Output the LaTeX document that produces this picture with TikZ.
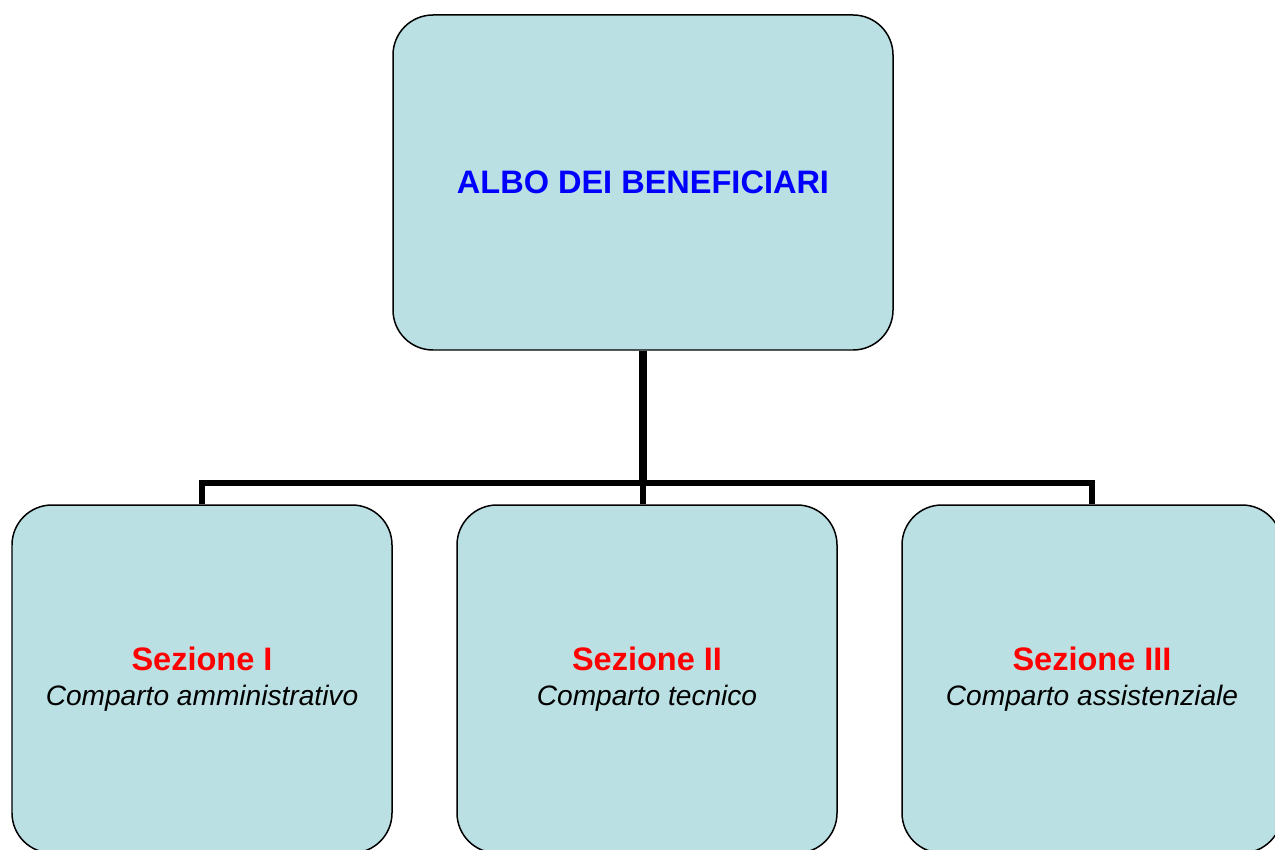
\documentclass[tikz,border=0pt]{standalone}
\usepackage{fontspec}
\setmainfont{Liberation Sans}
\usepackage{xcolor}
\definecolor{boxcyan}{RGB}{187,224,227}
\definecolor{alboblue}{RGB}{0,0,255}
\definecolor{sezred}{RGB}{255,0,0}

\begin{document}
\begin{tikzpicture}[
    box/.style={draw,black,line width=0.85pt,fill=boxcyan,rounded corners=0.8cm,align=center,inner sep=0pt},
    topbox/.style={box,minimum width=10cm,minimum height=6.7cm},
    sezbox/.style={box,minimum width=7.6cm,minimum height=6.96cm,font=\fontsize{16}{20}\selectfont},
    trunk/.style={line width=0.16cm},
    branch/.style={line width=0.115cm}
]
    \useasboundingbox (0,0) rectangle (25.5,-16.98);
    \node[topbox] (albo) at (12.86,-3.65) {\fontsize{18.5}{22}\selectfont\bfseries\color{alboblue}ALBO DEI BENEFICIARI};
    \node[sezbox] (sez1) at (4.04,-13.58) {{\fontsize{18.5}{22}\selectfont\bfseries\color{sezred}Sezione I}\\\itshape Comparto amministrativo};
    \node[sezbox] (sez2) at (12.94,-13.58) {{\fontsize{18.5}{22}\selectfont\bfseries\color{sezred}Sezione II}\\\itshape Comparto tecnico};
    \node[sezbox] (sez3) at (21.84,-13.58) {{\fontsize{18.5}{22}\selectfont\bfseries\color{sezred}Sezione III}\\\itshape Comparto assistenziale};

    \coordinate (junction) at (12.86,-9.66);
    \draw[branch] (sez1.north) |- (junction) -| (sez3.north);
    \draw[branch] (sez2.north -| junction) -- (junction);
    \draw[trunk] (albo.south) -- ([yshift=-0.06cm]junction);
\end{tikzpicture}
\end{document}
